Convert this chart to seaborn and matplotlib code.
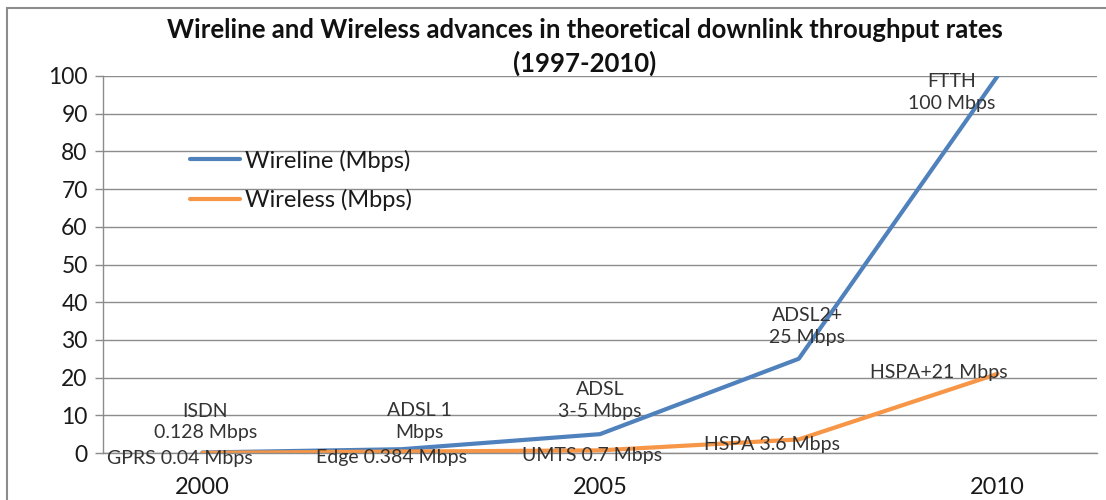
import numpy as np
import pandas as pd
import matplotlib
matplotlib.use("Agg")
import matplotlib.pyplot as plt
from matplotlib.patches import Rectangle
import seaborn as sns

# Category axis labels (one slot per technology generation)
tick_labels = ["2000", "", "2005", "", "2010"]

# Theoretical downlink throughput, Mbps
wireline = [0.128, 1, 5, 25, 100]
wireless = [0.04, 0.384, 0.7, 3.6, 21]

wireline_labels = ["ISDN\n0.128 Mbps", "ADSL 1\nMbps", "ADSL\n3-5 Mbps",
                   "ADSL2+\n25 Mbps", "FTTH\n100 Mbps"]
wireless_labels = ["GPRS 0.04 Mbps", "Edge 0.384 Mbps", "UMTS 0.7 Mbps",
                   "HSPA 3.6 Mbps", "HSPA+21 Mbps"]

series_names = ["Wireline (Mbps)", "Wireless (Mbps)"]
colors = ["#4F81BD", "#F79646"]

sns.set_theme(style="white")
plt.rcParams["font.family"] = ["Lato", "DejaVu Sans"]

pos = np.arange(len(tick_labels))
df = pd.DataFrame({
    "pos": np.concatenate([pos, pos]),
    "value": wireline + wireless,
    "series": [series_names[0]] * len(pos) + [series_names[1]] * len(pos),
})

fig = plt.figure(figsize=(11.06, 5.0), dpi=100)
W, H = 1106, 500
ax = fig.add_axes([103 / W, 1 - 453 / H, 994 / W, 377 / H])

sns.lineplot(data=df, x="pos", y="value", hue="series", palette=colors,
             linewidth=3.0, ax=ax, legend=True)

ax.set_xlim(-0.5, len(pos) - 0.5)
ax.set_ylim(0, 100)
ax.set_yticks(np.arange(0, 101, 10))
ax.yaxis.grid(True, color="#8c8c8c", linewidth=1.0)
ax.set_axisbelow(True)
ax.set_xlabel("")
ax.set_ylabel("")

ax.set_xticks(pos)
ax.set_xticklabels(tick_labels)
ax.set_xticks(np.arange(-0.5, len(pos), 1.0), minor=True)
ax.tick_params(axis="x", which="major", length=0, pad=17, labelsize=17,
               labelcolor="#1a1a1a")
ax.tick_params(axis="x", which="minor", length=7, width=1, color="#8c8c8c",
               direction="out")
ax.tick_params(axis="y", length=6, width=1, color="#8c8c8c", direction="out",
               labelsize=16.5, labelcolor="#1a1a1a", pad=5, left=True)

for side in ["top", "right"]:
    ax.spines[side].set_visible(False)
for side in ["left", "bottom"]:
    ax.spines[side].set_color("#8c8c8c")
    ax.spines[side].set_linewidth(1.0)

# Data labels, offsets in points from each vertex
wl_off = [(2, 22), (13, 20), (0, 24), (6, 23), (-33, -12)]
ws_off = [(-16, -4), (-7, -4), (-6, -4), (-19, -4), (-42, 1)]
for i in range(len(pos)):
    ax.annotate(wireline_labels[i], (pos[i], wireline[i]),
                xytext=wl_off[i], textcoords="offset points",
                ha="center", va="center", fontsize=14, color="#333333",
                linespacing=1.35, annotation_clip=False)
    ax.annotate(wireless_labels[i], (pos[i], wireless[i]),
                xytext=ws_off[i], textcoords="offset points",
                ha="center", va="center", fontsize=14, color="#333333",
                annotation_clip=False)

leg = ax.legend(loc="upper left", bbox_to_anchor=(0.0875, 0.805),
                frameon=False, fontsize=17, handlelength=2.1,
                handletextpad=0.25, labelspacing=0.75, borderaxespad=0,
                borderpad=0)
for t in leg.get_texts():
    t.set_color("#1a1a1a")

fig.text(585 / W, 1 - 30 / H,
         "Wireline and Wireless advances in theoretical downlink throughput rates",
         ha="center", va="center", fontsize=18.5, fontweight="bold", color="#111111")
fig.text(585 / W, 1 - 63 / H, "(1997-2010)",
         ha="center", va="center", fontsize=18.5, fontweight="bold", color="#111111")

# Chart-area border
fig.patches.append(Rectangle((7 / W, -0.05), 1.2, 1 - 8 / H + 0.05,
                             transform=fig.transFigure, fill=False,
                             edgecolor="#8c8c8c", linewidth=1.5))

fig.savefig("out.png", dpi=100)
